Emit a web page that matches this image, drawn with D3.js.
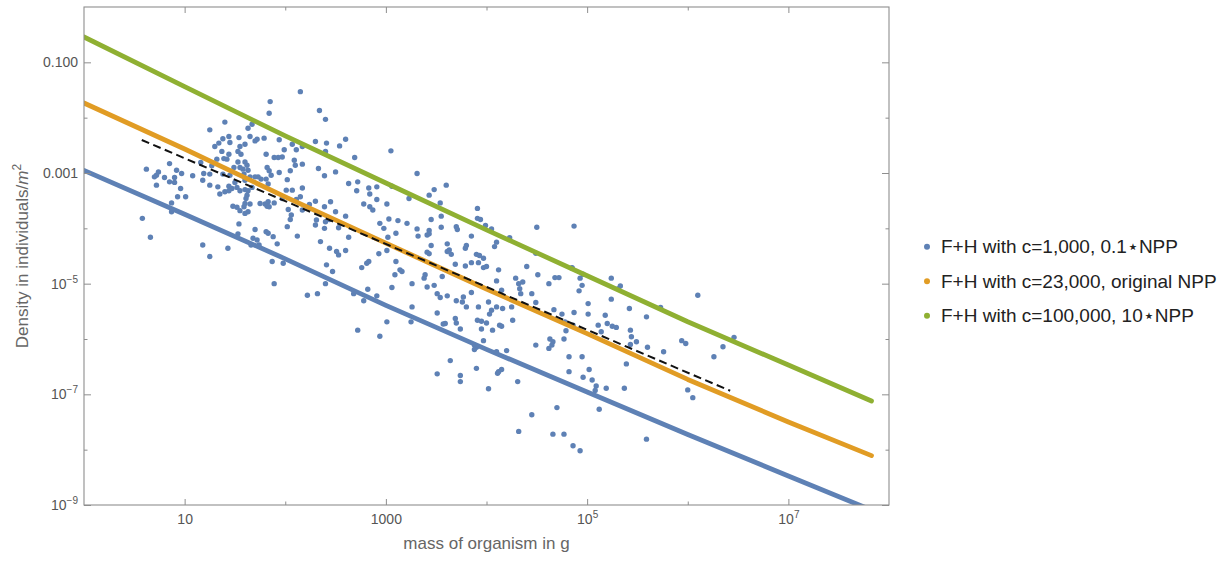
<!DOCTYPE html>
<html>
<head>
<meta charset="utf-8">
<script src="https://cdn.jsdelivr.net/npm/d3@7"></script>
<style>
  body { margin: 0; background: #fff; }
  svg { display: block; font-family: "Liberation Sans", Arial, Helvetica, sans-serif; }
</style>
</head>
<body>
<svg id="chart" width="1230" height="565"></svg>
<script>
// Observed species: [log10 body mass (g), log10 density (individuals / m^2)]
const observedLog10 = [
  [2.15,-1.53],[1.85,-1.71],[1.84,-1.92],[2.34,-1.87],[2.40,-2.03],[1.40,-2.08],[1.25,-2.22],[1.63,-2.19],[1.67,-2.12],[1.72,-2.39],
  [1.70,-2.42],[1.79,-2.37],[1.44,-2.34],[1.38,-2.38],[1.34,-2.46],[1.30,-2.52],[1.45,-2.45],[1.54,-2.36],[1.65,-2.34],[1.60,-2.48],
  [1.55,-2.52],[1.53,-2.61],[1.56,-2.66],[1.53,-2.80],[1.60,-2.80],[1.62,-2.86],[1.58,-2.93],[1.63,-2.95],[1.37,-2.61],[1.32,-2.75],
  [1.39,-2.74],[1.44,-2.66],[1.42,-2.75],[1.81,-2.66],[1.89,-2.72],[1.94,-2.40],[1.99,-2.58],[1.97,-2.71],[1.93,-2.72],[2.07,-2.48],
  [2.11,-2.58],[2.17,-2.52],[2.09,-2.77],[2.10,-2.86],[2.17,-2.84],[2.30,-2.43],[2.41,-2.46],[2.40,-2.61],[2.33,-2.92],[2.39,-3.05],
  [2.17,-3.27],[2.02,-3.12],[2.05,-2.96],[1.94,-2.99],[1.84,-2.96],[1.82,-2.90],[1.86,-3.04],[1.81,-3.11],[1.83,-3.20],[1.76,-3.11],
  [1.73,-3.07],[1.70,-3.07],[1.65,-3.07],[1.60,-3.13],[1.59,-3.02],[1.55,-2.90],[1.49,-2.90],[1.45,-3.04],[1.38,-3.02],[1.25,-3.02],
  [1.19,-3.01],[1.27,-2.87],[1.18,-3.13],[1.25,-3.22],[1.33,-3.25],[1.35,-3.38],[1.40,-3.34],[1.44,-3.24],[1.47,-3.28],[1.50,-3.17],
  [1.52,-3.26],[1.44,-3.32],[1.55,-3.32],[1.60,-3.30],[1.63,-3.32],[1.67,-3.26],[1.62,-3.40],[1.61,-3.46],[1.60,-3.55],[1.65,-3.56],
  [1.59,-3.61],[1.63,-3.70],[1.60,-3.73],[1.55,-3.68],[1.52,-3.62],[1.48,-3.60],[1.75,-3.55],[1.80,-3.56],[1.83,-3.52],[1.82,-3.60],
  [1.84,-3.61],[1.89,-3.54],[1.97,-3.46],[2.01,-3.31],[2.07,-3.31],[2.11,-3.48],[2.15,-3.43],[2.03,-3.66],[2.06,-3.76],[2.05,-3.84],
  [2.02,-3.97],[2.17,-3.67],[2.24,-3.57],[2.30,-3.51],[2.39,-3.61],[2.45,-3.52],[2.31,-3.85],[2.30,-3.94],[2.39,-4.00],[2.40,-3.88],
  [2.44,-3.84],[2.50,-3.70],[2.53,-4.48],[2.44,-4.36],[2.51,-4.42],[2.41,-4.66],[2.35,-4.24],[2.12,-4.14],[1.92,-4.28],[1.88,-4.15],
  [1.81,-4.06],[1.83,-4.09],[1.70,-4.02],[1.68,-4.18],[1.72,-4.21],[1.74,-4.30],[1.66,-4.30],[1.54,-3.92],[1.53,-4.10],[1.43,-4.36],
  [1.25,-4.51],[1.18,-4.30],[0.87,-3.54],[0.93,-3.43],[1.01,-3.43],[0.96,-3.28],[0.90,-3.17],[0.90,-3.08],[0.85,-3.16],[0.80,-3.08],
  [0.74,-2.98],[0.72,-3.04],[0.70,-3.07],[0.62,-2.93],[0.72,-3.22],[0.85,-2.83],[0.92,-2.95],[0.97,-3.01],[1.08,-3.05],[1.16,-2.81],
  [0.58,-3.82],[0.66,-4.16],[0.87,-3.70],
  [2.54,-2.51],[2.60,-2.39],[3.05,-2.60],[2.69,-2.72],[2.50,-2.98],[3.31,-3.01],[2.63,-3.19],[2.72,-3.16],[2.71,-3.32],[2.83,-3.27],
  [2.84,-3.38],[2.91,-3.25],[3.06,-3.24],[2.91,-3.48],[2.78,-3.56],[2.84,-3.61],[2.87,-3.67],[3.01,-3.56],[3.43,-3.40],[3.48,-3.30],
  [3.60,-3.22],[3.54,-3.54],[3.23,-3.46],[3.91,-3.64],[3.91,-3.82],[3.94,-3.84],[3.99,-3.95],[4.05,-4.01],[4.23,-4.17],[4.10,-4.25],
  [4.08,-4.33],[4.50,-3.98],[3.03,-3.83],[3.12,-3.86],[2.94,-3.91],[2.98,-4.00],[3.21,-3.91],[3.31,-4.01],[3.32,-4.14],[3.43,-4.04],
  [3.43,-4.10],[3.41,-4.12],[3.45,-3.84],[3.55,-3.78],[3.55,-3.98],[3.70,-3.97],[3.71,-4.02],[3.85,-4.14],[3.61,-4.28],[3.63,-4.39],
  [3.61,-4.42],[3.65,-4.47],[3.79,-4.36],[3.80,-4.31],[3.90,-4.47],[3.93,-4.49],[3.97,-4.54],[3.02,-4.16],[3.10,-4.09],[3.45,-4.31],
  [3.41,-4.43],[3.43,-4.46],[3.01,-4.40],[2.93,-4.46],[2.60,-4.40],[2.60,-3.78],[2.53,-3.99],[2.63,-4.16],
  [4.87,-3.96],[4.49,-4.45],[4.85,-4.72],
  [1.89,-5.00],[2.22,-5.21],[2.32,-5.18],[1.87,-4.60],[1.98,-4.63],[2.40,-5.00],
  [2.47,-4.78],[2.76,-4.71],[2.81,-4.63],[2.83,-4.60],[3.10,-4.60],[3.09,-4.84],[3.14,-4.75],[3.16,-4.78],[3.39,-4.84],[3.38,-4.90],
  [3.26,-5.00],[3.48,-5.03],[3.56,-4.87],[3.69,-4.65],[3.79,-4.68],[3.85,-4.62],[3.92,-4.62],[3.97,-4.71],[4.00,-4.69],[4.12,-4.75],
  [4.29,-4.90],[4.32,-5.00],[4.33,-5.09],[4.36,-4.97],[4.34,-5.18],[4.40,-4.69],[4.51,-4.84],[4.45,-5.18],[4.49,-5.34],[4.10,-4.95],
  [4.15,-5.12],[4.10,-5.42],[4.16,-5.45],[4.25,-5.42],[4.02,-5.33],[4.05,-5.48],[4.03,-5.55],[3.92,-5.42],[3.80,-5.42],[3.85,-5.16],
  [3.77,-5.24],[3.76,-5.33],[3.70,-5.31],[3.61,-5.22],[3.54,-5.25],[3.51,-5.18],[3.41,-5.06],[3.06,-5.07],[2.82,-5.10],[2.78,-5.31],
  [2.68,-5.18],[2.91,-5.22],[3.26,-5.42],[3.51,-5.53],[3.25,-5.69],[3.01,-5.69],[2.72,-5.84],[2.94,-5.95],[3.57,-5.73],[3.59,-5.72],
  [3.69,-5.63],[3.70,-5.71],[3.74,-5.82],[3.91,-5.66],[3.95,-5.68],[4.00,-5.71],[3.95,-5.82],[4.06,-5.84],[4.13,-5.75],[4.15,-5.77],
  [4.26,-5.66],[3.97,-6.03],[3.88,-6.11],[3.90,-6.15],[3.88,-6.19],[4.10,-6.23],[4.20,-6.21],[4.49,-6.11],[3.64,-6.39],[3.90,-6.53],
  [3.51,-6.63],[3.74,-6.66],[3.74,-6.77],[4.11,-6.62],[4.12,-6.59],[4.15,-6.55],[4.02,-6.90],[4.31,-6.77],[4.45,-7.37],[4.32,-7.67],
  [4.85,-4.71],[4.96,-4.83],[4.93,-4.90],[4.95,-5.03],[4.92,-5.13],[5.24,-4.90],[5.33,-5.04],[5.31,-5.09],[5.24,-5.28],[5.01,-5.36],
  [5.01,-5.55],[4.87,-5.52],[4.75,-5.55],[4.67,-5.47],[4.62,-5.00],[4.68,-4.89],[4.72,-4.89],[4.78,-5.69],[4.79,-5.85],[4.77,-6.00],
  [4.86,-5.75],[5.11,-5.75],[5.14,-5.87],[5.18,-5.57],[5.20,-5.72],[5.25,-5.77],[5.29,-5.79],[5.42,-5.45],[5.43,-5.84],[5.44,-5.96],
  [5.49,-6.05],[5.43,-6.10],[5.59,-5.60],[5.73,-5.43],[6.10,-5.21],[5.94,-6.03],[5.98,-6.08],[5.76,-6.23],[5.60,-6.15],[5.39,-6.45],
  [4.95,-6.32],[4.82,-6.32],[4.82,-6.59],[5.02,-6.55],[4.96,-6.69],[5.05,-6.74],[5.09,-6.85],[5.08,-6.93],[5.19,-6.89],[5.37,-6.89],
  [4.63,-6.00],[4.66,-6.05],[4.62,-6.17],[4.65,-6.11],[4.70,-7.24],[5.12,-7.27],[4.66,-7.72],[4.77,-7.72],[4.86,-7.93],[4.93,-8.02],
  [5.59,-7.81],[6.00,-6.92],[6.05,-7.06],[6.26,-6.32],[6.35,-6.14],[6.46,-5.97]
];

// F+H model curves sampled per decade of body mass
const modelMass      = [1, 10, 100, 1e3, 1e4, 1e5, 1e6, 1e7, 6.7e7];
const densityLowNPP  = [1.11e-3, 1.8e-4, 2.81e-5, 4.06e-6, 6.5e-7, 1.1e-7, 1.88e-8, 3.34e-9, 8.1e-10];
const densityOrigNPP = [1.84e-2, 2.72e-3, 3.7e-4, 5.4e-5, 8.0e-6, 1.25e-6, 1.86e-7, 3.16e-8, 7.8e-9];
const densityHighNPP = [0.287, 3.64e-2, 4.67e-3, 6.6e-4, 9.4e-5, 1.39e-5, 2.05e-6, 3.39e-7, 7.6e-8];

// Least-squares fit through the observations (end points)
const fitMass    = [3.75, 2.64e6];
const fitDensity = [3.95e-3, 1.16e-7];

const legendLabels = [
  "F+H with c=1,000, 0.1\u22C6NPP",
  "F+H with c=23,000, original NPP",
  "F+H with c=100,000, 10\u22C6NPP"
];
const seriesColors = ["#5E81B5", "#E19C24", "#8FB032"];

const xMajorTicks = [10, 1e3, 1e5, 1e7];
const xMinorTicks = [100, 1e4, 1e6];
const yMajorTicks = [1e-1, 1e-3, 1e-5, 1e-7, 1e-9];
const yMinorTicks = [1e-2, 1e-4, 1e-6, 1e-8];

// ---- layout ----
const frame = { left: 84, right: 889, top: 7, bottom: 505 };
const FRAME_COLOR = "#8e8e8e";
const TICK_TEXT = "#555";
const TITLE_TEXT = "#666";

const svg = d3.select("#chart");

const x = d3.scaleLog().domain([1, 1e8]).range([frame.left, frame.right]);
const y = d3.scaleLog().domain([1e-9, 1]).range([frame.bottom, frame.top]);

svg.append("defs").append("clipPath").attr("id", "plotClip")
  .append("rect")
  .attr("x", frame.left).attr("y", frame.top)
  .attr("width", frame.right - frame.left).attr("height", frame.bottom - frame.top);

const plot = svg.append("g").attr("clip-path", "url(#plotClip)");

// observations
plot.append("g")
  .selectAll("circle")
  .data(observedLog10)
  .join("circle")
  .attr("cx", d => x(Math.pow(10, d[0])))
  .attr("cy", d => y(Math.pow(10, d[1])))
  .attr("r", 2.7)
  .attr("fill", seriesColors[0]);

// model curves
const modelLine = d3.line().x(d => x(d[0])).y(d => y(d[1]));
[densityLowNPP, densityOrigNPP, densityHighNPP].forEach((dens, i) => {
  plot.append("path")
    .datum(modelMass.map((m, k) => [m, dens[k]]))
    .attr("d", modelLine)
    .attr("fill", "none")
    .attr("stroke", seriesColors[i])
    .attr("stroke-width", 4.8)
    .attr("stroke-linecap", "round")
    .attr("stroke-linejoin", "round");
});

// regression line
plot.append("path")
  .datum(fitMass.map((m, k) => [m, fitDensity[k]]))
  .attr("d", modelLine)
  .attr("fill", "none")
  .attr("stroke", "#111")
  .attr("stroke-width", 2)
  .attr("stroke-dasharray", "8,4.5");

// ---- frame with inward ticks on all four sides ----
function ticksOnSide(axisFn, scale, values, len, transform) {
  svg.append("g")
    .attr("transform", transform)
    .call(axisFn(scale).tickValues(values).tickSize(-len).tickFormat(""))
    .call(g => g.select(".domain").remove())
    .call(g => g.selectAll(".tick line").attr("stroke", FRAME_COLOR));
}
ticksOnSide(d3.axisBottom, x, xMajorTicks, 6, `translate(0,${frame.bottom})`);
ticksOnSide(d3.axisBottom, x, xMinorTicks, 3.5, `translate(0,${frame.bottom})`);
ticksOnSide(d3.axisTop, x, xMajorTicks, 6, `translate(0,${frame.top})`);
ticksOnSide(d3.axisTop, x, xMinorTicks, 3.5, `translate(0,${frame.top})`);
ticksOnSide(d3.axisLeft, y, yMajorTicks, 7, `translate(${frame.left},0)`);
ticksOnSide(d3.axisLeft, y, yMinorTicks, 3.5, `translate(${frame.left},0)`);
ticksOnSide(d3.axisRight, y, yMajorTicks, 7, `translate(${frame.right},0)`);
ticksOnSide(d3.axisRight, y, yMinorTicks, 3.5, `translate(${frame.right},0)`);

svg.append("rect")
  .attr("x", frame.left).attr("y", frame.top)
  .attr("width", frame.right - frame.left).attr("height", frame.bottom - frame.top)
  .attr("fill", "none").attr("stroke", FRAME_COLOR).attr("stroke-width", 1.1);

// tick labels: plain decimals where short, powers of ten otherwise
function writeLabel(textSel, v, plain) {
  textSel.text(null);
  if (plain.has(v)) {
    textSel.text(plain.get(v));
    return;
  }
  const e = Math.round(Math.log10(v));
  textSel.append("tspan").text("10");
  textSel.append("tspan")
    .attr("font-size", "10px")
    .attr("dy", "-6")
    .text(String(e).replace("-", "\u2212"));
}

const xPlain = new Map([[10, "10"], [1000, "1000"]]);
const yPlain = new Map([[0.1, "0.100"], [0.001, "0.001"]]);

svg.append("g")
  .attr("transform", `translate(0,${frame.bottom})`)
  .call(d3.axisBottom(x).tickValues(xMajorTicks).tickSize(0).tickPadding(9))
  .call(g => g.select(".domain").remove())
  .call(g => g.selectAll(".tick text")
    .attr("font-size", 14).attr("fill", TICK_TEXT)
    .attr("font-family", "Liberation Sans, Arial, sans-serif")
    .each(function (d) { writeLabel(d3.select(this), d, xPlain); }));

svg.append("g")
  .attr("transform", `translate(${frame.left},0)`)
  .call(d3.axisLeft(y).tickValues(yMajorTicks).tickSize(0).tickPadding(6))
  .call(g => g.select(".domain").remove())
  .call(g => g.selectAll(".tick text")
    .attr("font-size", 14).attr("fill", TICK_TEXT)
    .attr("font-family", "Liberation Sans, Arial, sans-serif")
    .each(function (d) { writeLabel(d3.select(this), d, yPlain); }));

// axis titles
svg.append("text")
  .attr("x", (frame.left + frame.right) / 2)
  .attr("y", 549)
  .attr("text-anchor", "middle")
  .attr("font-size", 17)
  .attr("fill", TITLE_TEXT)
  .text("mass of organism in g");

const yTitle = svg.append("text")
  .attr("transform", `translate(28,${(frame.top + frame.bottom) / 2}) rotate(-90)`)
  .attr("text-anchor", "middle")
  .attr("font-size", 17)
  .attr("fill", TITLE_TEXT);
yTitle.append("tspan").text("Density in individuals/");
yTitle.append("tspan").attr("font-style", "italic").text("m");
yTitle.append("tspan").attr("font-size", 12).attr("dy", -7).text("2");

// legend
const legend = svg.append("g");
const legendRows = legend.selectAll("g")
  .data(legendLabels)
  .join("g")
  .attr("transform", (d, i) => `translate(927,${246.7 + i * 34.5})`);
legendRows.append("circle")
  .attr("r", 3)
  .attr("fill", (d, i) => seriesColors[i]);
legendRows.append("text")
  .attr("x", 14)
  .attr("dy", "0.35em")
  .attr("font-size", 19)
  .attr("fill", "#222")
  .text(d => d);
</script>
</body>
</html>
